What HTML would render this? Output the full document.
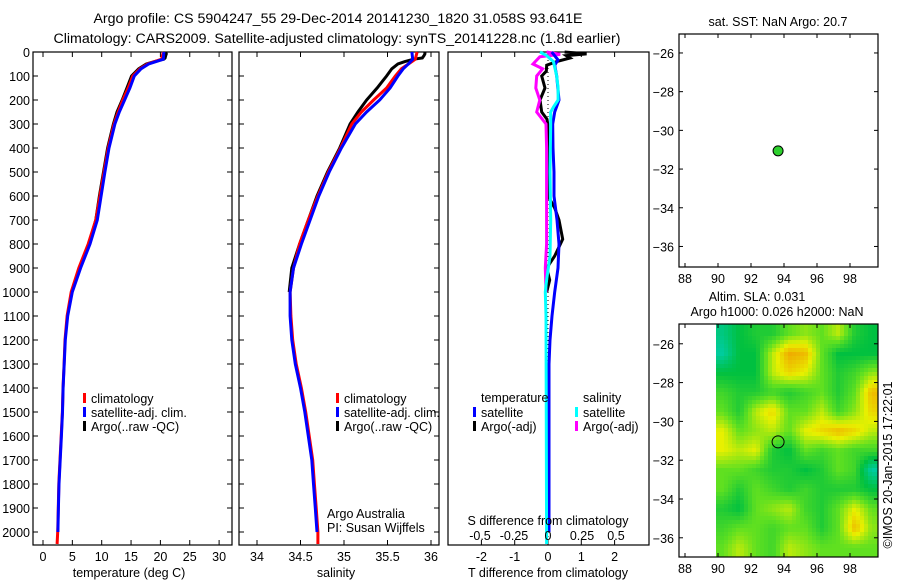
<!DOCTYPE html>
<html><head><meta charset="utf-8"><style>
html,body{margin:0;padding:0;background:#fff;}
svg{display:block;font-family:"Liberation Sans",Arial,sans-serif;}
</style></head><body>
<svg id="fig" width="900" height="580" viewBox="0 0 900 580" xmlns="http://www.w3.org/2000/svg">
<defs>
<clipPath id="mapclip"><rect x="716" y="324" width="162" height="233"/></clipPath>
</defs>
<text x="338" y="23" font-size="14.2" text-anchor="middle">Argo profile: CS 5904247_55 29-Dec-2014 20141230_1820 31.058S 93.641E</text>
<text x="337" y="43" font-size="14.2" text-anchor="middle">Climatology: CARS2009. Satellite-adjusted climatology: synTS_20141228.nc (1.8d earlier)</text>
<text x="778" y="26" font-size="12.5" text-anchor="middle">sat. SST: NaN Argo: 20.7</text>
<text x="757" y="301" font-size="12.5" text-anchor="middle">Altim. SLA: 0.031</text>
<text x="777" y="316" font-size="12.5" text-anchor="middle">Argo h1000: 0.026 h2000: NaN</text>
<text transform="translate(892,465) rotate(-90)" font-size="12.5" text-anchor="middle">©IMOS 20-Jan-2015 17:22:01</text>
<g id="plots"></g>
</svg>
<script>
// ---- profile data ----
const depths=[0,30,50,70,100,150,200,250,300,400,500,600,700,800,900,1000,1100,1200,1300,1400,1500,1600,1700,1800,1900,2000,2050];
const tClim=[20.5,20.2,17.8,16.5,15.3,14.5,13.6,12.8,12.1,11.1,10.4,9.7,9.0,7.7,6.1,4.8,4.1,3.75,3.6,3.4,3.3,3.1,2.9,2.7,2.6,2.5,2.4];
const tSat=[20.6,20.5,18.0,16.7,15.55,14.8,13.9,13.0,12.25,11.25,10.55,9.9,9.25,8.0,6.4,5.0,4.2,3.8,3.62,3.43,3.33,3.13,2.93,2.73,2.63,2.53,2.5];
const sClim=[35.84,35.82,35.74,35.66,35.59,35.49,35.34,35.20,35.09,34.96,34.82,34.70,34.59,34.49,34.42,34.38,34.39,34.41,34.45,34.51,34.56,34.60,34.64,34.66,34.68,34.70,34.70];
const sSat=[35.78,35.79,35.74,35.68,35.62,35.53,35.41,35.26,35.13,34.97,34.83,34.71,34.61,34.51,34.42,34.38,34.38,34.40,34.44,34.50,34.55,34.59,34.63,34.65,34.67,34.69,34.69];
const argoDepths=[0,8,15,25,30,40,50,70,100,150,200,250,300,400,500,600,700,800,900,1000];
const tArgo=[20.9,21.0,20.9,20.8,20.6,19.0,17.6,16.3,15.1,14.3,13.5,12.6,12.0,11.0,10.3,9.6,9.0,7.8,6.2,4.9];
const sArgo=[35.93,35.93,35.92,35.90,35.80,35.70,35.62,35.55,35.49,35.38,35.26,35.16,35.07,34.95,34.81,34.69,34.59,34.49,34.40,34.37];
// ---- difference data ----
const dTSatDepths=[0,33,55,100,200,250,300,400,500,600,700,800,900,1000,1100,1200,1300,2000];
const dTSat=[0.11,0.3,0.2,0.26,0.33,0.2,0.14,0.15,0.18,0.18,0.27,0.33,0.3,0.2,0.12,0.06,0.03,0.03];
const dTArgoDepths=[0,8,15,25,40,55,80,100,150,200,250,280,300,450,600,650,700,780,850,900,950,1000];
const dTArgo=[0.5,1.16,0.55,0.66,0.26,-0.04,-0.05,-0.19,-0.09,-0.24,-0.19,-0.03,-0.01,0.02,0.0,0.2,0.33,0.44,0.2,-0.04,0.05,-0.04];
const dSSatDepths=[0,15,40,100,150,200,230,250,300,500,700,850,950,1000,1100,2050];
const dSSat=[-0.059,-0.01,0.04,0.064,0.074,0.074,0.04,0.02,0.02,0.015,0.02,0.015,-0.01,-0.02,-0.015,-0.01];
const dSArgoDepths=[0,10,20,50,70,100,150,200,250,300,400,700,800,900,1000];
const dSArgo=[-0.01,0.09,-0.06,-0.11,-0.04,-0.083,-0.09,-0.06,-0.083,-0.015,-0.01,-0.01,-0.01,-0.02,-0.015];
// ---- tick labels ----
const depthTicks=[0,100,200,300,400,500,600,700,800,900,1000,1100,1200,1300,1400,1500,1600,1700,1800,1900,2000];
const tempTicks=[0,5,10,15,20,25,30];
const salTicks=[34,34.5,35,35.5,36];
const tDiffTicks=[-2,-1,0,1,2];
const tDiffLabels=["-2","-1","0","1","2"];
const sDiffTicks=[-0.5,-0.25,0,0.25,0.5];
const sDiffLabels=["-0.5","-0.25","0","0.25","0.5"];
const lonTicks=[88,90,92,94,96,98];
const latTicks=[-26,-28,-30,-32,-34,-36];
// ---- map data ----
const argoLon=93.641, argoLat=-31.058;
const slaLonCenter=[90.3,91.3,92.3,93.3,94.3,95.3,96.3,97.3,98.3,99.3];
const slaLatCenter=[-25.5,-26.5,-27.5,-28.5,-29.5,-30.5,-31.5,-32.5,-33.5,-34.5,-35.5,-36.5];
const slaGrid=[
[0.35,0.45,0.5,0.5,0.6,0.65,0.6,0.7,0.5,0.45],
[0.3,0.45,0.45,0.7,0.88,0.85,0.6,0.45,0.45,0.45],
[0.45,0.45,0.45,0.7,0.8,0.75,0.6,0.5,0.55,0.65],
[0.55,0.5,0.5,0.55,0.5,0.55,0.6,0.5,0.6,0.85],
[0.6,0.5,0.7,0.8,0.6,0.6,0.7,0.55,0.65,0.8],
[0.75,0.6,0.65,0.7,0.6,0.75,0.8,0.85,0.8,0.7],
[0.75,0.7,0.75,0.5,0.45,0.6,0.55,0.6,0.55,0.55],
[0.6,0.6,0.55,0.5,0.5,0.45,0.5,0.6,0.55,0.3],
[0.6,0.5,0.6,0.55,0.5,0.55,0.5,0.5,0.5,0.45],
[0.5,0.45,0.6,0.65,0.7,0.55,0.5,0.6,0.75,0.6],
[0.55,0.6,0.6,0.55,0.6,0.6,0.5,0.6,0.85,0.65],
[0.6,0.7,0.6,0.55,0.7,0.65,0.6,0.6,0.6,0.6]];

const NS="http://www.w3.org/2000/svg";
const root=document.getElementById('plots');
function mk(tag,attrs,parent){const e=document.createElementNS(NS,tag);for(const k in attrs)e.setAttribute(k,attrs[k]);(parent||root).appendChild(e);return e;}
function txt(s,x,y,anchor,size,parent){const e=mk('text',{x:x,y:y,'text-anchor':anchor||'middle','font-size':size||12.5},parent);e.textContent=s;return e;}

const Y0=52, YPX=0.24;
const yD=d=>Y0+d*YPX;
const xT=v=>43+v*5.87;
const xS=v=>257+(v-34)*87;
const xTd=v=>548+v*33.3;
const xSd=v=>548+v*136;

function panelFrame(x0,x1,name){
  const r=mk('rect',{x:x0,y:52,width:x1-x0,height:493,fill:'none',stroke:'#000','stroke-width':1.2});
  
  
  depthTicks.forEach(d=>{
    const y=yD(d);
    mk('line',{x1:x0,x2:x0+5,y1:y,y2:y,stroke:'#000'});
    mk('line',{x1:x1-5,x2:x1,y1:y,y2:y,stroke:'#000'});
  });
}
function line(xs,ds,xf,color,name,w){
  const pts=xs.map((v,i)=>xf(v).toFixed(1)+','+yD(ds[i]).toFixed(1)).join(' ');
  const p=mk('polyline',{points:pts,fill:'none',stroke:color,'stroke-width':w||3});
  
  
  return p;
}
function xTicks(vals,xf){
  vals.forEach(v=>{const x=xf(v);
    mk('line',{x1:x,x2:x,y1:52,y2:57,stroke:'#000'});
    mk('line',{x1:x,x2:x,y1:540,y2:545,stroke:'#000'});});
}
function legendItem(x,y,color,label,name){
  const r=mk('rect',{x:x,y:y-10,width:3,height:10,fill:color});
  
  
  const t=txt(label,x+8,y,'start',12.5);
  
  
}

depthTicks.forEach(d=>{const t=txt(String(d),30,yD(d)+5,'end',12.5);
  
  });

// temperature panel
panelFrame(33,232,'temperature-panel');
xTicks(tempTicks,xT);
tempTicks.forEach(v=>{const t=txt(String(v),xT(v),561);
  
  });
let t1=txt('temperature (deg C)',129,577);


line(tArgo,argoDepths,xT,'#000','temperature-argo-line');
line(tClim,depths,xT,'#f00','temperature-climatology-line');
line(tSat,depths.slice(0,26),xT,'#00f','temperature-satellite-line');
legendItem(83,403,'#f00','climatology','temp-legend-climatology');
legendItem(83,417,'#00f','satellite-adj. clim.','temp-legend-satellite');
legendItem(83,431,'#000','Argo(..raw -QC)','temp-legend-argo');

// salinity panel
panelFrame(239,439,'salinity-panel');
xTicks(salTicks,xS);
salTicks.forEach(v=>{const t=txt(String(v),xS(v),561);
  
  });
let t2=txt('salinity',336,577);


line(sArgo,argoDepths,xS,'#000','salinity-argo-line');
line(sClim,depths,xS,'#f00','salinity-climatology-line');
line(sSat,depths.slice(0,26),xS,'#00f','salinity-satellite-line');
legendItem(336,403,'#f00','climatology','sal-legend-climatology');
legendItem(336,417,'#00f','satellite-adj. clim.','sal-legend-satellite');
legendItem(336,431,'#000','Argo(..raw -QC)','sal-legend-argo');
let pa=txt('Argo Australia',327,518,'start',12.5);


let pi=txt('PI: Susan Wijffels',327,532,'start',12.5);



// difference panel
const r3=mk('rect',{x:448,y:52,width:201,height:493,fill:'none',stroke:'#000','stroke-width':1.2});


xTicks(tDiffTicks,xTd);
const zl=mk('line',{x1:xTd(0),x2:xTd(0),y1:52,y2:545,stroke:'#000','stroke-dasharray':'1,3'});


line(dTArgo,dTArgoDepths,xTd,'#000','t-diff-argo-line');
line(dSArgo,dSArgoDepths,xSd,'#f0f','s-diff-argo-line');
line(dTSat,dTSatDepths,xTd,'#00f','t-diff-satellite-line');
line(dSSat,dSSatDepths,xSd,'#0ff','s-diff-satellite-line');
tDiffTicks.forEach((v,i)=>{const t=txt(tDiffLabels[i],xTd(v),561);
  
  });
sDiffTicks.forEach((v,i)=>{const t=txt(sDiffLabels[i],xSd(v),540);
  
  });
let t3=txt('S difference from climatology',548,525);


let t4=txt('T difference from climatology',548,577);


let lt=txt('temperature',481,402,'start',12.5);


let ls=txt('salinity',583,402,'start',12.5);


legendItem(473,417,'#00f','satellite','diff-legend-t-satellite');
legendItem(473,431,'#000','Argo(-adj)','diff-legend-t-argo');
legendItem(575,417,'#0ff','satellite','diff-legend-s-satellite');
legendItem(575,431,'#f0f','Argo(-adj)','diff-legend-s-argo');

// maps
function mapAxes(top,bottom,latTop,pxLat,name){
  const xL=lon=>685+(lon-88)*16.5;
  const yL=lat=>top+(latTop-lat)*pxLat;
  const r=mk('rect',{x:679,y:top,width:199,height:bottom-top,fill:'none',stroke:'#000','stroke-width':1.2});
  
  
  lonTicks.forEach(l=>{const x=xL(l);
    mk('line',{x1:x,x2:x,y1:top,y2:top+4,stroke:'#000'});
    mk('line',{x1:x,x2:x,y1:bottom-4,y2:bottom,stroke:'#000'});
    const t=txt(String(l),x,bottom+16);
    
    });
  latTicks.forEach(l=>{const y=yL(l);
    mk('line',{x1:679,x2:683,y1:y,y2:y,stroke:'#000'});
    mk('line',{x1:874,x2:878,y1:y,y2:y,stroke:'#000'});
    const t=txt(String(l).replace('-','\u2212'),674,y+5,'end');
    
    });
  return {xL,yL};
}
const stops=[[0.25,[0,208,192]],[0.45,[0,192,64]],[0.6,[96,224,32]],[0.75,[232,240,0]],[0.9,[240,160,0]]];
function cmap(v){
  if(v<=stops[0][0])return 'rgb('+stops[0][1]+')';
  for(let i=1;i<stops.length;i++){if(v<=stops[i][0]){const a=stops[i-1],b=stops[i],f=(v-a[0])/(b[0]-a[0]);
    return 'rgb('+a[1].map((c,k)=>Math.round(c+(b[1][k]-c)*f)).join(',')+')';}}
  return 'rgb('+stops[stops.length-1][1]+')';
}
function sample(lon,lat){
  const nj=slaLonCenter.length, ni=slaLatCenter.length;
  let fj=(lon-slaLonCenter[0])/(slaLonCenter[1]-slaLonCenter[0]);
  let fi=(lat-slaLatCenter[0])/(slaLatCenter[1]-slaLatCenter[0]);
  fj=Math.max(0,Math.min(nj-1,fj)); fi=Math.max(0,Math.min(ni-1,fi));
  const j0=Math.min(nj-2,Math.floor(fj)), i0=Math.min(ni-2,Math.floor(fi));
  const a=fj-j0, b=fi-i0;
  return slaGrid[i0][j0]*(1-a)*(1-b)+slaGrid[i0][j0+1]*a*(1-b)+slaGrid[i0+1][j0]*(1-a)*b+slaGrid[i0+1][j0+1]*a*b;
}
const heat=mk('g',{'clip-path':'url(#mapclip)'});


const STEP=4;
for(let py=324;py<557;py+=STEP){
  for(let px=716;px<878;px+=STEP){
    const lon=88+(px+STEP/2-685)/16.5, lat=-24.98-(py+STEP/2-324)/19.4;
    mk('rect',{x:px,y:py,width:STEP+0.3,height:STEP+0.3,fill:cmap(sample(lon,lat))},heat);
  }
}
const m1=mapAxes(34,267,-25.02,19.35,'sst-map');
const m2=mapAxes(324,557,-24.98,19.4,'sla-map');
const dot=mk('circle',{cx:m1.xL(argoLon),cy:m1.yL(argoLat),r:5,fill:'#2ed02e',stroke:'#000','stroke-width':1});


const ring=mk('circle',{cx:m2.xL(argoLon),cy:m2.yL(argoLat),r:6,fill:'none',stroke:'#000','stroke-width':1});


</script>
</body></html>
